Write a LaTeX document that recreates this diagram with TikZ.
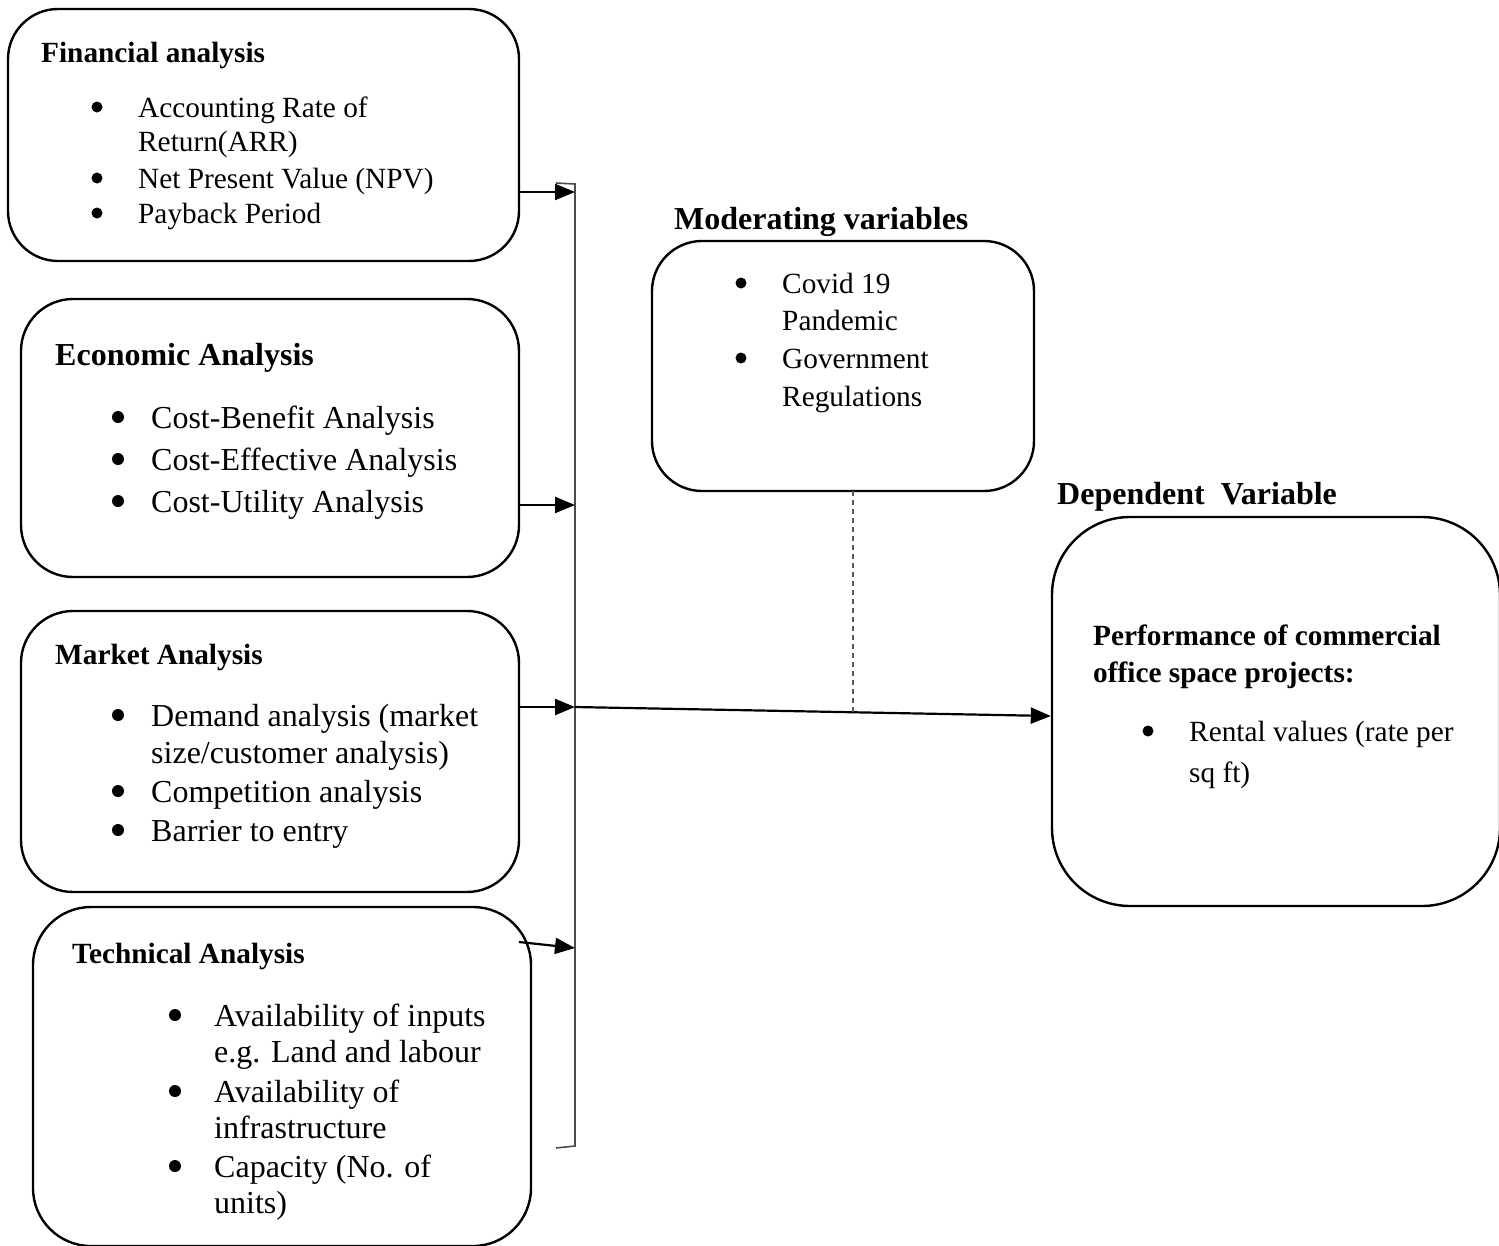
\documentclass[tikz,border=0pt]{standalone}
\usepackage{fontspec}
\setmainfont{Liberation Serif}
\usetikzlibrary{arrows.meta}
\begin{document}
\begin{tikzpicture}[x=1pt,y=-1pt]
\useasboundingbox (0,0) rectangle (1499,1245);
\tikzset{
  box/.style={draw, line width=2.4pt, inner sep=0, fill=none},
  sm/.style={font=\fontsize{29.3}{35}\selectfont, inner sep=0, anchor=base west},
  lg/.style={font=\fontsize{32}{38}\selectfont, inner sep=0, anchor=base west},
  smb/.style={font=\fontsize{29.3}{35}\selectfont\bfseries, inner sep=0, anchor=base west},
  lgb/.style={font=\fontsize{32}{38}\selectfont\bfseries, inner sep=0, anchor=base west},
  bulsm/.style={circle, fill=black, inner sep=0, minimum size=11pt, yshift=10pt},
  bullg/.style={circle, fill=black, inner sep=0, minimum size=12pt, yshift=11pt},
  arr/.style={line width=2.2pt, -{Triangle[length=20pt,width=16pt]}},
  brk/.style={line width=1.6pt, draw=black!70},
  modline/.style={line width=1.4pt, draw=black!65, dash pattern=on 5pt off 4pt},
}
% boxes
\node[box, rounded corners=50pt, minimum width=511pt, minimum height=252pt] (fin) at (263.5,135) {};
\node[box, rounded corners=52pt, minimum width=498pt, minimum height=278pt] (eco) at (270,438) {};
\node[box, rounded corners=52pt, minimum width=498pt, minimum height=281pt] (mkt) at (270,751.5) {};
\node[box, rounded corners=58pt, minimum width=498pt, minimum height=339pt] (tec) at (282,1076.5) {};
\node[box, rounded corners=50pt, minimum width=382pt, minimum height=250pt] (mod) at (843,366) {};
\node[box, rounded corners=78pt, minimum width=448pt, minimum height=389pt] (dep) at (1276,711.5) {};

% Financial
\node[smb] (fint) at (41,62) {Financial analysis};
\node[bulsm] (finb1) at (97,117) {};
\node[sm] (fin1) at (138,117) {Accounting Rate of};
\node[sm] (fin2) at (138,151) {Return(ARR)};
\node[bulsm] (finb2) at (97,188) {};
\node[sm] (fin3) at (138,188) {Net Present Value (NPV)};
\node[bulsm] (finb3) at (97,223) {};
\node[sm] (fin4) at (138,223) {Payback Period};

% Economic
\node[lgb] (ecot) at (55,365) {Economic Analysis};
\node[bullg] (ecob1) at (118,428) {};
\node[lg] (eco1) at (151,428) {Cost-Benefit Analysis};
\node[bullg] (ecob2) at (118,470) {};
\node[lg] (eco2) at (151,470) {Cost-Effective Analysis};
\node[bullg] (ecob3) at (118,512) {};
\node[lg] (eco3) at (151,512) {Cost-Utility Analysis};

% Market
\node[smb] (mktt) at (55,664) {Market Analysis};
\node[bullg] (mktb1) at (118,726) {};
\node[lg] (mkt1) at (151,726) {Demand analysis (market};
\node[lg] (mkt2) at (151,763) {size/customer analysis)};
\node[bullg] (mktb2) at (118,802) {};
\node[lg] (mkt3) at (151,802) {Competition analysis};
\node[bullg] (mktb3) at (118,841) {};
\node[lg] (mkt4) at (151,841) {Barrier to entry};

% Technical
\node[smb] (tect) at (72,963) {Technical Analysis};
\node[bullg] (tecb1) at (175,1026) {};
\node[lg] (tec1) at (214,1026) {Availability of inputs};
\node[lg] (tec2) at (214,1062) {e.g. Land and labour};
\node[bullg] (tecb2) at (175,1102) {};
\node[lg] (tec3) at (214,1102) {Availability of};
\node[lg] (tec4) at (214,1138) {infrastructure};
\node[bullg] (tecb3) at (175,1177) {};
\node[lg] (tec5) at (214,1177) {Capacity (No. of};
\node[lg] (tec6) at (214,1213) {units)};

% Moderating
\node[lgb] (modt) at (674,229) {Moderating variables};
\node[bulsm] (modb1) at (741,293) {};
\node[sm] (mod1) at (782,293) {Covid 19};
\node[sm] (mod2) at (782,330) {Pandemic};
\node[bulsm] (modb2) at (741,368) {};
\node[sm] (mod3) at (782,368) {Government};
\node[sm] (mod4) at (782,406) {Regulations};

% Dependent
\node[lgb] (dept) at (1057,504) {Dependent\ \ Variable};
\node[smb] (dep1) at (1093,645) {Performance of commercial};
\node[smb] (dep2) at (1093,682) {office space projects:};
\node[bulsm] (depb1) at (1148,741) {};
\node[sm] (dep3) at (1189,741) {Rental values (rate per};
\node[sm] (dep4) at (1189,782) {sq ft)};

% bracket
\coordinate (btopl) at (556,183);
\coordinate (btop) at (575,184);
\coordinate (bbot) at (575,1146);
\coordinate (bbotl) at (556,1148);
\draw[brk] (btopl) -- (btop) -- (bbot) -- (bbotl);

% arrows into bracket
\coordinate (b1) at (575,192);
\coordinate (b2) at (575,505);
\coordinate (hub) at (575,707);
\coordinate (b4) at (575,948);
\coordinate (t0) at (519,942);
\draw[arr] (fin.east |- b1) -- (b1);
\draw[arr] (eco.east |- b2) -- (b2);
\draw[arr] (mkt.east |- hub) -- (hub);
\draw[arr] (t0) -- (b4);

% main arrow
\draw[arr] (hub) -- ([yshift=-4.5pt]dep.west);

% moderating dashed line
\coordinate (dtop) at (853,491);
\coordinate (dbot) at (853,712);
\draw[modline] (dtop) -- (dbot);
\end{tikzpicture}
\end{document}
